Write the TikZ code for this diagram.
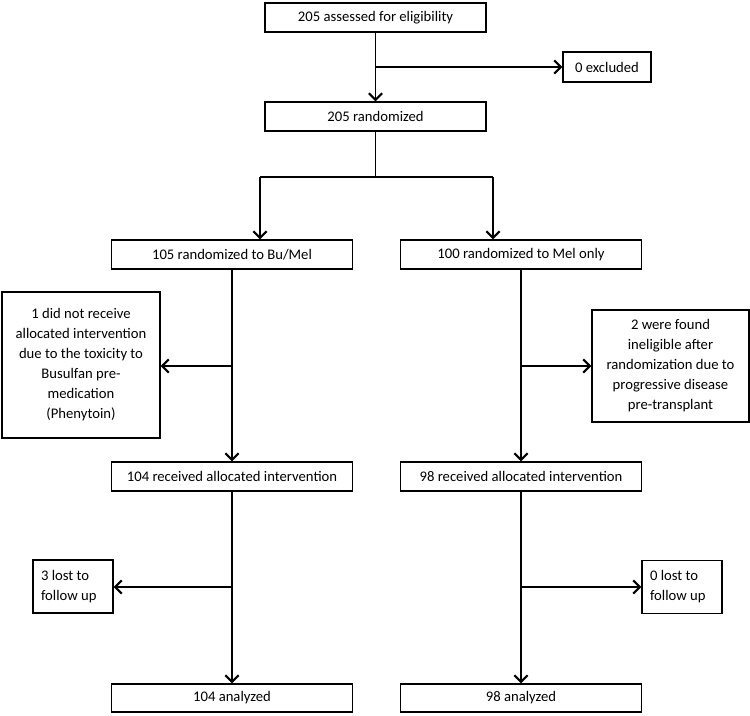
\documentclass[tikz,border=0pt]{standalone}
\usepackage{fontspec}
\setmainfont{Carlito}
\usetikzlibrary{arrows.meta}

\begin{document}
\begin{tikzpicture}[x=0.75pt, y=-0.75pt,
    box/.style={draw, line width=0.9pt, inner sep=0pt, align=center,
                font=\fontsize{11}{15}\selectfont},
    line/.style={line width=0.9pt},
    arr/.style={line width=0.9pt, -{Straight Barb[length=5pt,width=10pt,line width=1.6pt]}}]
  % Fix the picture size (pixels of the reference)
  \useasboundingbox (0,0) rectangle (750,715);

  % Draw the enrolment boxes
  \node[box, minimum width=221*0.75pt, minimum height=29*0.75pt] (assessed) at (375.5,17.5) {205 assessed for eligibility};
  \node[box, minimum width=88*0.75pt, minimum height=30*0.75pt] (excluded) at (607,67) {0 excluded};
  \node[box, minimum width=221*0.75pt, minimum height=29*0.75pt] (random) at (375.5,116.5) {205 randomized};

  % Draw the allocation boxes
  \node[box, minimum width=241*0.75pt, minimum height=29*0.75pt] (armbm) at (232,254.5) {105 randomized to Bu/Mel};
  \node[box, minimum width=241*0.75pt, minimum height=29*0.75pt] (armm) at (521,254.5) {100 randomized to Mel only};
  \node[box, minimum width=158*0.75pt, minimum height=146*0.75pt] (notbm) at (81,365)
    {1 did not receive\\allocated intervention\\due to the toxicity to\\Busulfan pre-\\medication\\(Phenytoin)};
  \node[box, minimum width=157*0.75pt, minimum height=112*0.75pt] (notm) at (670.5,366)
    {2 were found\\ineligible after\\randomization due to\\progressive disease\\pre-transplant};
  \node[box, minimum width=241*0.75pt, minimum height=29*0.75pt] (recbm) at (232,476.5) {104 received allocated intervention};
  \node[box, minimum width=241*0.75pt, minimum height=29*0.75pt] (recm) at (521,476.5) {98 received allocated intervention};

  % Draw the follow up and analysis boxes
  \node[box, align=flush left, text width=64*0.75pt, minimum width=80*0.75pt, minimum height=53*0.75pt] (lostbm) at (73,586.5) {3 lost to\\follow up};
  \node[box, align=flush left, text width=64*0.75pt, minimum width=80*0.75pt, minimum height=53*0.75pt] (lostm) at (682,587) {0 lost to\\follow up};
  \node[box, minimum width=241*0.75pt, minimum height=28*0.75pt] (anabm) at (232,698) {104 analyzed};
  \node[box, minimum width=241*0.75pt, minimum height=28*0.75pt] (anam) at (521,698) {98 analyzed};

  % Branch points
  \coordinate (exbr) at (375.5,67);
  \coordinate (split) at (375.5,177);
  \coordinate (splitl) at (260,177);
  \coordinate (splitr) at (493,177);
  \coordinate (brbm) at (232,366);
  \coordinate (brm) at (521,366);
  \coordinate (lbm) at (232,587);
  \coordinate (lm) at (521,587);

  % Draw the flow
  \draw[arr] (assessed) -- (random);
  \draw[arr] (exbr) -- (exbr -| excluded.west);
  \draw[line] (random) -- (split);
  \draw[line] (splitl) -- (splitr);
  \draw[arr] (splitl) -- (splitl |- armbm.north);
  \draw[arr] (splitr) -- (splitr |- armm.north);

  \draw[arr] (armbm) -- (recbm);
  \draw[arr] (brbm) -- (brbm -| notbm.east);
  \draw[arr] (armm) -- (recm);
  \draw[arr] (brm) -- (brm -| notm.west);

  \draw[arr] (recbm) -- (anabm);
  \draw[arr] (lbm) -- (lbm -| lostbm.east);
  \draw[arr] (recm) -- (anam);
  \draw[arr] (lm) -- (lm -| lostm.west);

\end{tikzpicture}
\end{document}
